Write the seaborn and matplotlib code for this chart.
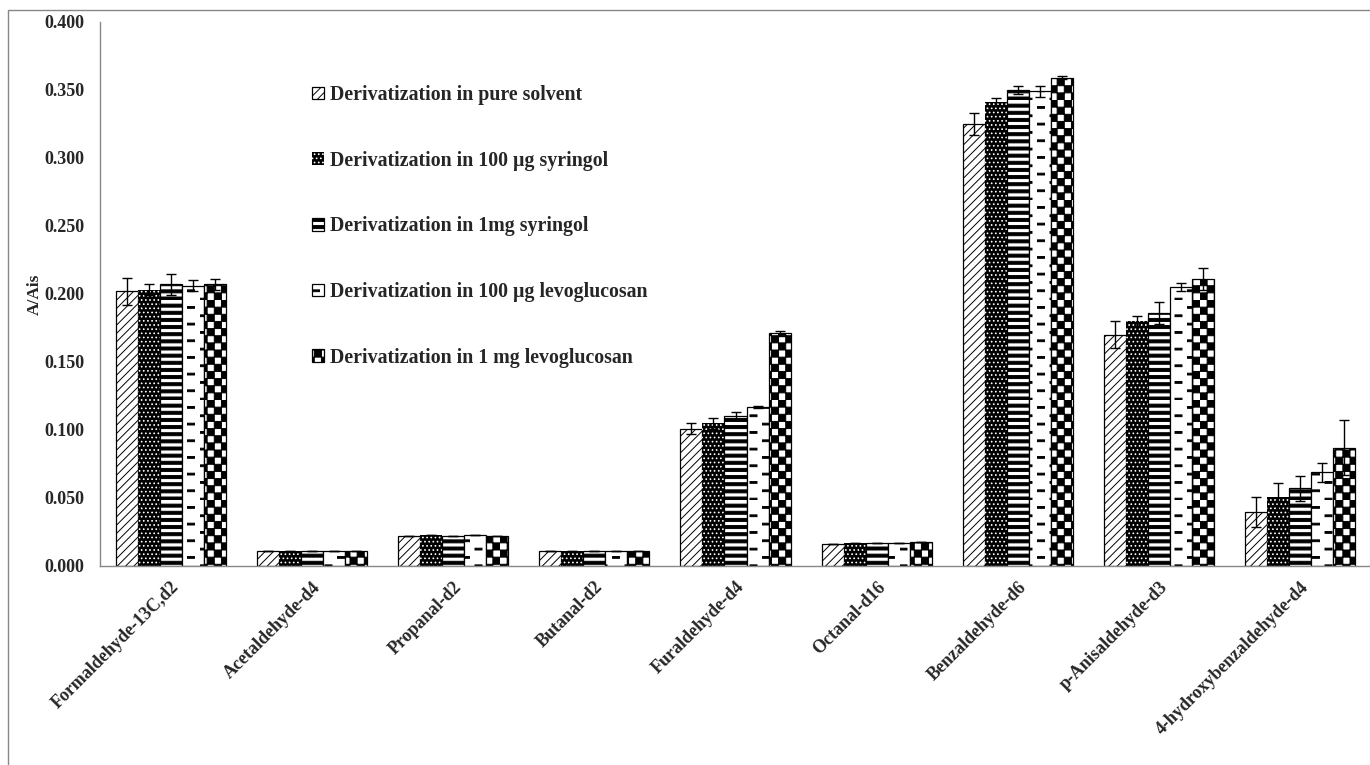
import warnings
import numpy as np
import pandas as pd
import matplotlib
matplotlib.use('Agg')
import matplotlib.pyplot as plt
import matplotlib.hatch as mhatch
from matplotlib.path import Path
from matplotlib.patches import Rectangle
from matplotlib.ticker import FormatStrFormatter, FixedLocator
import seaborn as sns

warnings.simplefilter("ignore")

# data ---------------------------------------------------------------------
compounds = ['Formaldehyde-13C,d2', 'Acetaldehyde-d4', 'Propanal-d2', 'Butanal-d2',
             'Furaldehyde-d4', 'Octanal-d16', 'Benzaldehyde-d6', 'p-Anisaldehyde-d3',
             '4-hydroxybenzaldehyde-d4']
series = ['Derivatization in pure solvent',
          'Derivatization in 100 µg syringol',
          'Derivatization in 1mg syringol',
          'Derivatization in 100 µg levoglucosan',
          'Derivatization in 1 mg levoglucosan']

pure_solvent = [0.202, 0.011, 0.022, 0.011, 0.101, 0.016, 0.325, 0.170, 0.040]
syringol_100ug = [0.203, 0.011, 0.023, 0.011, 0.105, 0.017, 0.341, 0.180, 0.051]
syringol_1mg = [0.207, 0.011, 0.022, 0.011, 0.110, 0.017, 0.350, 0.186, 0.057]
levo_100ug = [0.206, 0.011, 0.023, 0.011, 0.117, 0.017, 0.349, 0.205, 0.069]
levo_1mg = [0.207, 0.011, 0.022, 0.011, 0.171, 0.018, 0.359, 0.211, 0.087]

err_pure = [0.010, 0.000, 0.000, 0.000, 0.004, 0.000, 0.008, 0.010, 0.011]
err_syr100 = [0.004, 0.000, 0.000, 0.000, 0.004, 0.000, 0.003, 0.004, 0.010]
err_syr1 = [0.008, 0.000, 0.000, 0.000, 0.003, 0.000, 0.003, 0.008, 0.009]
err_levo100 = [0.004, 0.000, 0.000, 0.000, 0.001, 0.000, 0.004, 0.003, 0.007]
err_levo1 = [0.004, 0.000, 0.000, 0.000, 0.002, 0.000, 0.001, 0.008, 0.020]

values = [pure_solvent, syringol_100ug, syringol_1mg, levo_100ug, levo_1mg]
errors = [err_pure, err_syr100, err_syr1, err_levo100, err_levo1]

df = pd.DataFrame({
    'compound': compounds * len(series),
    'series': [s for s in series for _ in compounds],
    'value': [v for vals in values for v in vals],
})


# extra hatch: c = checkerboard, h = thick stripes, d = staggered dashes ----
class BoxHatch(mhatch.HatchPatternBase):
    def __init__(self, hatch, density):
        self.boxes = []
        n = hatch.count('c') * 7
        for i in range(n):
            for j in range(n):
                self.boxes.append((i / n, j / n, 0.5 / n, 0.5 / n))
                self.boxes.append(((i + 0.5) / n, (j + 0.5) / n, 0.5 / n, 0.5 / n))
        m = hatch.count('h') * 14
        for j in range(m):
            self.boxes.append((0.0, j / m, 1.0, 0.42 / m))
        k = hatch.count('d') * 12
        for j in range(k):
            shift = 0.125 if j % 2 else 0.0
            for i in range(4):
                self.boxes.append((i * 0.25 + shift, j / k, 0.07, 0.018))
        self.num_vertices = 5 * len(self.boxes)

    def set_vertices_and_codes(self, vertices, codes):
        for b, (x, y, w, h) in enumerate(self.boxes):
            vertices[5 * b:5 * b + 5] = [(x, y), (x + w, y), (x + w, y + h), (x, y + h), (x, y)]
            codes[5 * b:5 * b + 5] = [Path.MOVETO, Path.LINETO, Path.LINETO,
                                      Path.LINETO, Path.CLOSEPOLY]


mhatch._hatch_types.append(BoxHatch)

# style --------------------------------------------------------------------
sns.set_style('white')
plt.rcParams['font.family'] = ['Liberation Serif', 'DejaVu Serif']
plt.rcParams['font.weight'] = 'bold'
plt.rcParams['hatch.linewidth'] = 0.7

fig = plt.figure(figsize=(13.7, 7.65), dpi=100)
ax = fig.add_axes([100 / 1370, 199 / 765, 1271 / 1370, 544 / 765])

sns.barplot(data=df, x='compound', y='value', hue='series', order=compounds,
            hue_order=series, errorbar=None, width=0.78, ax=ax, legend=False)

# fill, hatch, edge per series
looks = [('white', '////', 'black', 0.9),
         ('black', '....', 'white', 0.0),
         ('white', 'h', 'black', 0.9),
         ('white', 'd', 'black', 0.9),
         ('white', 'c', 'black', 0.9)]
for cont, (fc, hatch, ec, lw) in zip(ax.containers, looks):
    for p in cont:
        p.set_facecolor(fc)
        p.set_edgecolor(ec)
        p.set_hatch(hatch)
        p.set_linewidth(lw)

for cont, err in zip(ax.containers, errors):
    xs = [p.get_x() + p.get_width() / 2 for p in cont]
    hs = [p.get_height() for p in cont]
    ax.errorbar(xs, hs, yerr=err, fmt='none', ecolor='black', elinewidth=1,
                capsize=3.5, capthick=1, zorder=5)

# axes ---------------------------------------------------------------------
ax.set_xlim(-0.5, len(compounds) - 0.5)
ax.set_ylim(0, 0.4)
ax.set_yticks(np.arange(0, 0.401, 0.05))
ax.yaxis.set_major_formatter(FormatStrFormatter('%.3f'))
ax.set_xticks(range(len(compounds)))
ax.set_xticklabels(compounds, rotation=45, ha='right', rotation_mode='anchor',
                   fontsize=13, fontweight='bold')
ax.xaxis.set_minor_locator(FixedLocator(np.arange(-0.5, len(compounds) - 0.5, 1)))
ax.tick_params(axis='x', which='major', length=0, pad=9)
ax.tick_params(axis='x', which='minor', length=6, color='#888888', direction='out')
ax.tick_params(axis='y', length=5, color='#888888', direction='out', labelsize=13, pad=6)
for lab in ax.get_yticklabels():
    lab.set_fontweight('bold')

ax.set_xlabel('')
ax.set_ylabel('A/Ais', fontsize=12.5, fontweight='bold', labelpad=1)

for side in ['top', 'right']:
    ax.spines[side].set_visible(False)
for side in ['left', 'bottom']:
    ax.spines[side].set_color('#888888')
    ax.spines[side].set_linewidth(1)

handles = [cont[0] for cont in ax.containers]
ax.legend(handles, series, loc='upper left', bbox_to_anchor=(302 / 1370, 1 - 75 / 765),
          bbox_transform=fig.transFigure, frameon=False,
          prop={'weight': 'bold', 'size': 14.3}, handlelength=0.6, handleheight=0.6,
          handletextpad=0.3, labelspacing=2.3, borderpad=0)

# outer chart border
fig.add_artist(Rectangle((8 / 1370, -0.02), 1.0, 1.02 - 10 / 765, transform=fig.transFigure,
                         fill=False, edgecolor='#888888', linewidth=1))

fig.savefig('out.png', dpi=100)
